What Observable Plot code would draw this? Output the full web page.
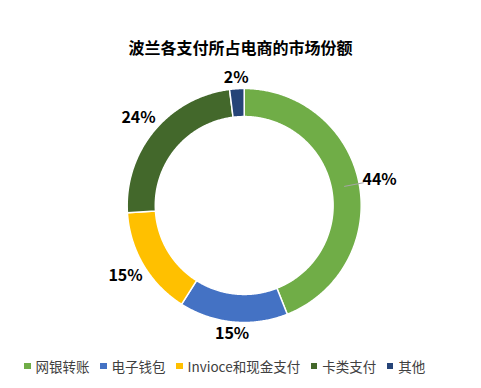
<!DOCTYPE html>
<html>
<head>
<meta charset="utf-8">
<script src="https://cdn.jsdelivr.net/npm/d3@7"></script>
<script src="https://cdn.jsdelivr.net/npm/@observablehq/plot@0.6"></script>
<style>
  html, body { margin: 0; padding: 0; background: #fff; }
  #wrap { width: 481px; height: 388px; overflow: hidden; position: relative; }
  #title { height: 25px; padding-top: 35px; line-height: 20px; text-align: center;
    font: bold 16px "Noto Sans CJK SC", sans-serif; color: #000; }
  #chart svg { display: block; }
  #legend { height: 31px; padding-top: 7px; padding-left: 24px; display: flex; align-items: flex-start;
    font: 13.5px "Noto Sans CJK SC", sans-serif; color: #404040; line-height: 18px; }
  .item { display: flex; align-items: center; margin-right: 10.5px; height: 18px; }
  .sw { width: 6.5px; height: 6.5px; margin-right: 5px; }
</style>
</head>
<body>
<div id="wrap">
  <div id="title"></div>
  <div id="chart"></div>
  <div id="legend"></div>
</div>
<script>
const chartTitle = "波兰各支付所占电商的市场份额";
const categories = ["网银转账", "电子钱包", "Invioce和现金支付", "卡类支付", "其他"];
const shares = [44, 15, 15, 24, 2];
const labelTexts = ["44%", "15%", "15%", "24%", "2%"];
const colors = ["#70AD47", "#4472C4", "#FFC000", "#43682B", "#264478"];

document.getElementById("title").textContent = chartTitle;

const W = 481, H = 290;
const R = 117;            // outer radius in px
const cx = 243.7, cy = 145;
const innerFrac = 0.76;

const table = categories.map((c, i) => ({cat: c, value: shares[i], label: labelTexts[i]}));
const arcs = d3.pie().sort(null).value(d => d.value)(table);

// polygon points for ring slices (unit radius = outer radius)
const ringPts = [];
arcs.forEach(a => {
  const n = Math.max(4, Math.ceil((a.endAngle - a.startAngle) / (Math.PI / 360)));
  for (let k = 0; k <= n; k++) {
    const t = a.startAngle + (a.endAngle - a.startAngle) * k / n;
    ringPts.push({cat: a.data.cat, x: Math.sin(t), y: Math.cos(t)});
  }
  for (let k = n; k >= 0; k--) {
    const t = a.startAngle + (a.endAngle - a.startAngle) * k / n;
    ringPts.push({cat: a.data.cat, x: innerFrac * Math.sin(t), y: innerFrac * Math.cos(t)});
  }
});

// label positions: just outside the ring along each slice's mid-angle
const hw = 16 / R, hh = 6 / R, pad = 4 / R;
const labelRows = arcs.map(a => {
  const m = (a.startAngle + a.endAngle) / 2;
  const s = Math.sin(m), c = Math.cos(m);
  const r = 1 + pad + Math.abs(s) * hw + Math.abs(c) * hh;
  return {label: a.data.label, x: r * s, y: r * c, mid: m, value: a.data.value};
});
const maxVal = d3.max(shares);
const leaderRows = labelRows.filter(d => d.value === maxVal).map(d => ({
  x1: 0.87 * Math.sin(d.mid), y1: 0.87 * Math.cos(d.mid),
  x2: 1.04 * Math.sin(d.mid), y2: 1.04 * Math.cos(d.mid)
}));

const plot = Plot.plot({
  width: W, height: H,
  margin: 0,
  x: {domain: [-cx / R, (W - cx) / R], range: [0, W], axis: null},
  y: {domain: [-(H - cy) / R, cy / R], range: [H, 0], axis: null},
  color: {domain: categories, range: colors},
  style: {background: "#fff"},
  marks: [
    Plot.line(ringPts, {x: "x", y: "y", z: "cat", fill: "cat", stroke: "#fff", strokeWidth: 1.5, curve: "linear-closed"}),
    Plot.link(leaderRows, {x1: "x1", y1: "y1", x2: "x2", y2: "y2", stroke: "#A6A6A6", strokeWidth: 1}),
    Plot.text(labelRows, {x: "x", y: "y", text: "label", fontSize: 16, fontWeight: "bold",
      fontFamily: "Noto Sans CJK SC, sans-serif", fill: "#000"})
  ]
});
document.getElementById("chart").appendChild(plot);

const legend = document.getElementById("legend");
categories.forEach((c, i) => {
  const it = document.createElement("div");
  it.className = "item";
  const sw = document.createElement("span");
  sw.className = "sw";
  sw.style.background = colors[i];
  const tx = document.createElement("span");
  tx.textContent = c;
  it.appendChild(sw); it.appendChild(tx);
  legend.appendChild(it);
});
</script>
</body>
</html>
